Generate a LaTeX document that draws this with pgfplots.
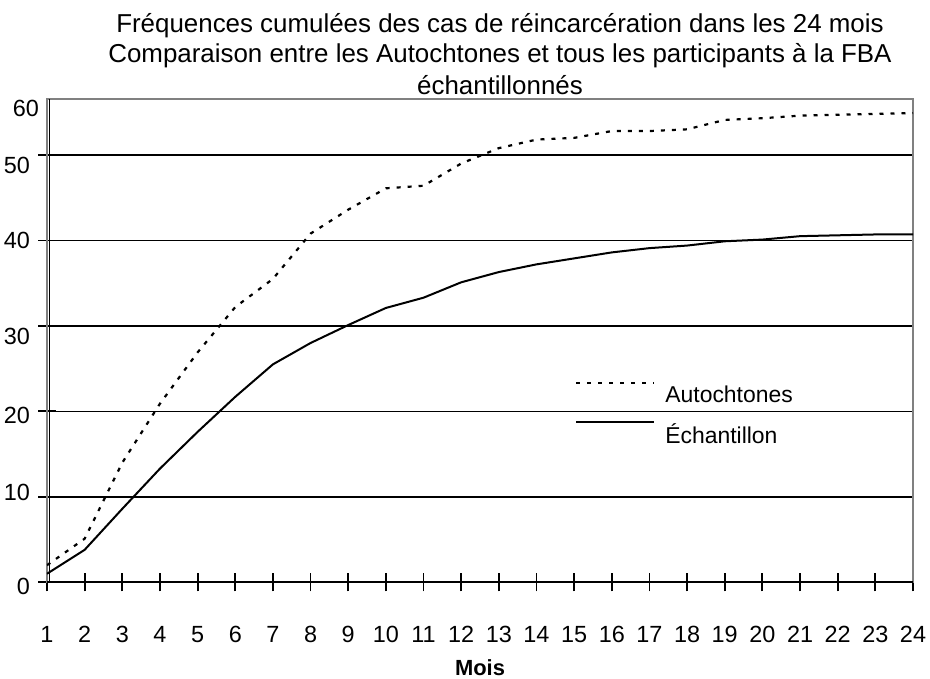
\documentclass[border=0pt]{standalone}
\usepackage{fontspec}
\setmainfont{Liberation Sans}
\usepackage{pgfplots}
\usepackage{pgfplotstable}
\pgfplotsset{compat=1.18}
\newcommand{\yl}[2]{\raisebox{#1}[\height][\depth]{#2}}

\pgfplotstableread{
m aut ech
1 2.0 1.0
2 5.1 3.8
3 14.0 8.6
4 20.9 13.3
5 26.9 17.6
6 32.2 21.7
7 35.5 25.5
8 40.8 28.0
9 43.6 30.1
10 46.1 32.1
11 46.4 33.3
12 49.0 35.1
13 50.8 36.3
14 51.8 37.2
15 52.0 37.9
16 52.8 38.6
17 52.8 39.1
18 53.0 39.4
19 54.1 39.9
20 54.3 40.1
21 54.6 40.5
22 54.7 40.6
23 54.8 40.7
24 54.9 40.7
}\data

\begin{document}
\begin{tikzpicture}
\begin{axis}[
  at={(0,0)}, anchor=south west,
  scale only axis, width=866bp, height=483.3bp,
  xmin=1, xmax=24, ymin=0, ymax=56.55,
  xtick={1,2,...,24},
  ytick={0,10,20,30,40,50},
  yticklabels={\yl{-4bp}{0},\yl{4bp}{10},\yl{-4bp}{20},\yl{-11bp}{30},40,\yl{-10bp}{50}},
  extra y ticks={56.55}, extra y tick labels={\yl{-9bp}{60}},
  extra y tick style={grid=none, major tick length=0pt},
  ymajorgrids, major grid style={black, line width=1.5bp},
  tick pos=left,
  tick align=center, major tick length=18bp,
  tick style={black, line width=1.8bp},
  axis line style={draw=gray, line width=1.5bp},
  /pgf/number format/assume math mode=true,
  tick label style={font=\fontsize{23.5}{27}\selectfont},
  xticklabel style={anchor=base, yshift=-51bp},
  yticklabel style={anchor=east, inner sep=0pt, xshift=-8bp},
  xlabel={\textbf{Mois}},
  xlabel style={at={(axis description cs:0.5,0)}, anchor=base, yshift=-93bp, font=\fontsize{22}{26}\selectfont},
  legend image code/.code={\draw[#1] (0bp,12bp) -- (78bp,12bp);},
  legend cell align=left,
  legend style={at={(axis description cs:0.6097,0.4144)}, anchor=north west, draw=none, fill=none, inner sep=0pt,
    font=\fontsize{23}{27}\selectfont, nodes={inner sep=0pt}, row sep=17bp,
    /tikz/every odd column/.append style={column sep=10bp}},
]
\addplot[black, line width=2.2bp, dash pattern=on 4bp off 7bp] table[x=m, y=aut] {\data};
\addlegendentry{Autochtones}
\addplot[black, line width=2bp] table[x=m, y=ech] {\data};
\addlegendentry{Échantillon}
\draw[black, line width=2bp] (rel axis cs:0,0) -- (rel axis cs:1,0);
\draw[black, line width=1.5bp] ([xshift=2.5bp]rel axis cs:0,0) -- ([xshift=2.5bp]rel axis cs:0,1);
\end{axis}
\node[anchor=base, font=\fontsize{26}{30}\selectfont] at (453bp,549.3bp) {Fréquences cumulées des cas de réincarcération dans les 24 mois};
\node[anchor=base, font=\fontsize{26}{30}\selectfont] at (453bp,519.3bp) {Comparaison entre les Autochtones et tous les participants à la FBA};
\node[anchor=base, font=\fontsize{26}{30}\selectfont] at (453bp,487.3bp) {échantillonnés};
\pgfresetboundingbox
\path (-47bp,-96.7bp) rectangle (883bp,582.3bp);
\end{tikzpicture}
\end{document}
